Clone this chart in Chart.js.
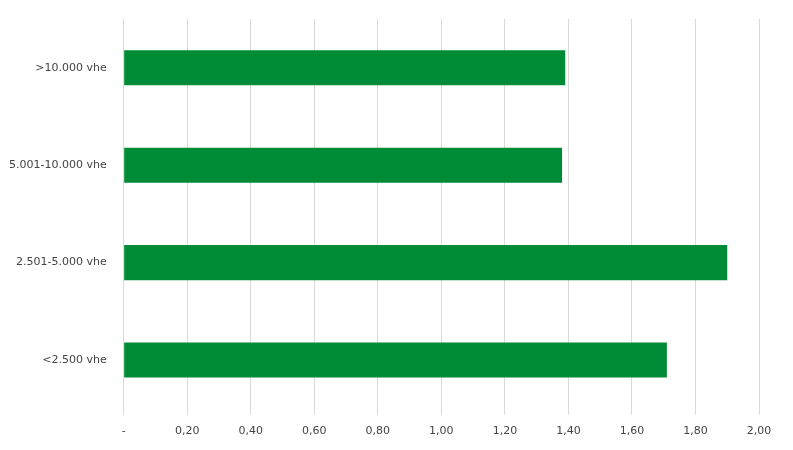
<!DOCTYPE html>
<html>
<head>
<meta charset="utf-8">
<script src="https://cdn.jsdelivr.net/npm/chart.js@4"></script>
<style>
  html, body { margin: 0; padding: 0; background: #fff; }
  #wrap { width: 793px; height: 450px; }
</style>
</head>
<body>
<div id="wrap"><canvas id="chart"></canvas></div>
<script>
// Data
const categories = ['>10.000 vhe', '5.001-10.000 vhe', '2.501-5.000 vhe', '<2.500 vhe'];
const values = [1.39, 1.38, 1.90, 1.71];

const ctx = document.getElementById('chart').getContext('2d');
new Chart(ctx, {
  type: 'bar',
  data: {
    labels: categories,
    datasets: [{
      data: values,
      backgroundColor: '#008C37',
      categoryPercentage: 0.72,
      barPercentage: 0.5
    }]
  },
  options: {
    indexAxis: 'y',
    responsive: true,
    maintainAspectRatio: false,
    animation: false,
    layout: { padding: { top: 19, right: 34, bottom: 2, left: 0 } },
    plugins: { legend: { display: false }, tooltip: { enabled: false } },
    scales: {
      x: {
        min: 0, max: 2,
        ticks: {
          stepSize: 0.2,
          color: '#444',
          font: { family: 'DejaVu Sans', size: 11 },
          padding: 10,
          callback: v => v === 0 ? '-' : v.toFixed(2).replace('.', ',')
        },
        grid: { color: '#d9d9d9', drawTicks: true, tickLength: 6 },
        border: { display: false }
      },
      y: {
        ticks: { color: '#444', font: { family: 'DejaVu Sans', size: 11 }, padding: 9 },
        grid: { display: false },
        border: { display: false }
      }
    }
  }
});
</script>
</body>
</html>
